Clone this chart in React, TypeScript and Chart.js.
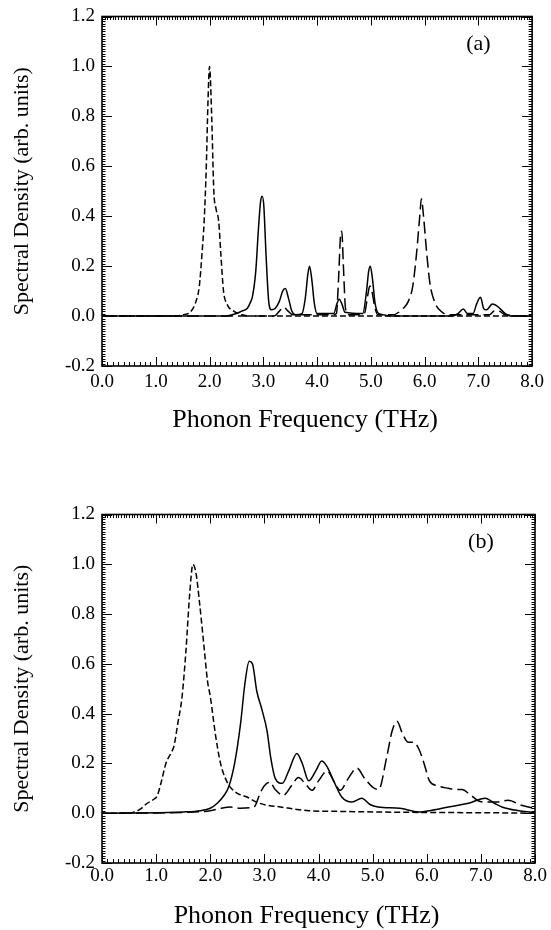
import React, { useEffect, useRef } from "react";
import { Chart, registerables } from "chart.js";

Chart.register(...registerables);

// ---------- axis ticks ----------
const X_MIN = 0;
const X_MAX = 8;
const X_STEP = 1;
const Y_MIN = -0.2;
const Y_MAX = 1.2;
const Y_STEP = 0.2;

const X_TITLE = "Phonon Frequency (THz)";
const Y_TITLE = "Spectral Density (arb. units)";

const PANEL_LABELS = ["(a)", "(b)"];
const PANEL_LABEL_X = 7.0;
const PANEL_LABEL_Y = 1.09;

// ---------- panel (a) ----------
const aSolidX = [0, 2.3, 2.5, 2.6, 2.7, 2.75, 2.8, 2.86, 2.91, 2.95, 2.98, 3.01, 3.05, 3.1, 3.15, 3.22, 3.3, 3.36, 3.41, 3.47, 3.53, 3.6, 3.72, 3.78, 3.83, 3.86, 3.9, 3.95, 4.0, 4.31, 4.37, 4.41, 4.46, 4.52, 4.85, 4.92, 4.96, 4.99, 5.03, 5.08, 5.15, 5.5, 6.5, 6.62, 6.72, 6.8, 6.9, 6.97, 7.04, 7.1, 7.15, 7.26, 7.35, 7.5, 7.6, 8.0];
const aSolidY = [0, 0, 0.01, 0.02, 0.03, 0.05, 0.08, 0.18, 0.35, 0.46, 0.48, 0.44, 0.25, 0.06, 0.025, 0.03, 0.06, 0.1, 0.11, 0.07, 0.02, 0.005, 0.01, 0.07, 0.17, 0.2, 0.15, 0.05, 0.01, 0.01, 0.05, 0.067, 0.05, 0.015, 0.01, 0.1, 0.18, 0.2, 0.15, 0.05, 0.01, 0.0, 0.0, 0.01, 0.028, 0.01, 0.01, 0.05, 0.075, 0.03, 0.025, 0.048, 0.04, 0.01, 0.0, 0.0];

const aShortX = [0, 1.3, 1.5, 1.66, 1.75, 1.81, 1.86, 1.9, 1.94, 1.97, 2.0, 2.04, 2.08, 2.12, 2.17, 2.21, 2.26, 2.32, 2.45, 2.6, 2.8, 8.0];
const aShortY = [0, 0, 0.005, 0.02, 0.06, 0.12, 0.25, 0.38, 0.6, 0.85, 1.0, 0.8, 0.5, 0.43, 0.38, 0.25, 0.1, 0.05, 0.02, 0.005, 0, 0];

const aLongX = [0, 3.2, 3.3, 3.38, 3.46, 3.55, 4.3, 4.36, 4.4, 4.44, 4.46, 4.49, 4.53, 4.6, 4.88, 4.94, 4.98, 5.02, 5.07, 5.13, 5.4, 5.6, 5.7, 5.78, 5.85, 5.91, 5.94, 5.98, 6.04, 6.1, 6.18, 6.3, 6.45, 7.2, 7.3, 7.38, 7.5, 8.0];
const aLongY = [0, 0, 0.02, 0.035, 0.02, 0.005, 0.005, 0.01, 0.15, 0.33, 0.34, 0.2, 0.03, 0.005, 0.01, 0.08, 0.12, 0.1, 0.04, 0.005, 0.005, 0.03, 0.06, 0.12, 0.25, 0.4, 0.47, 0.4, 0.25, 0.13, 0.06, 0.02, 0.005, 0.005, 0.02, 0.02, 0.005, 0];

// ---------- panel (b) ----------
const bSolidX = [0, 1.5, 1.82, 2.0, 2.13, 2.25, 2.34, 2.45, 2.56, 2.64, 2.72, 2.78, 2.86, 2.95, 3.05, 3.12, 3.2, 3.33, 3.45, 3.6, 3.7, 3.82, 3.95, 4.06, 4.15, 4.28, 4.43, 4.62, 4.8, 4.95, 5.1, 5.5, 5.85, 6.1, 6.4, 6.77, 7.08, 7.25, 7.4, 7.7, 7.9, 8.0];
const bSolidY = [0, 0.005, 0.01, 0.02, 0.04, 0.07, 0.105, 0.2, 0.36, 0.52, 0.61, 0.6, 0.49, 0.42, 0.33, 0.22, 0.14, 0.12, 0.17, 0.24, 0.2, 0.13, 0.17, 0.21, 0.19, 0.13, 0.065, 0.045, 0.06, 0.035, 0.025, 0.02, 0.005, 0.012, 0.025, 0.04, 0.06, 0.04, 0.024, 0.01, 0.005, 0.003];

const bShortX = [0, 0.5, 0.6, 0.7, 0.83, 0.95, 1.02, 1.1, 1.18, 1.27, 1.33, 1.4, 1.48, 1.55, 1.62, 1.68, 1.74, 1.8, 1.88, 1.95, 2.0, 2.1, 2.19, 2.28, 2.37, 2.5, 2.68, 2.85, 3.05, 3.3, 3.6, 3.82, 4.5, 5.05, 6.0, 7.0, 8.0];
const bShortY = [0, 0, 0.005, 0.015, 0.039, 0.055, 0.07, 0.13, 0.2, 0.24, 0.27, 0.36, 0.47, 0.65, 0.88, 1.0, 0.96, 0.85, 0.68, 0.53, 0.47, 0.31, 0.2, 0.14, 0.105, 0.08, 0.065, 0.045, 0.032, 0.025, 0.015, 0.01, 0.007, 0.005, 0.003, 0.002, 0.0];

const bLongX = [0, 1.5, 2.0, 2.2, 2.37, 2.55, 2.81, 2.92, 3.0, 3.1, 3.2, 3.35, 3.5, 3.63, 3.75, 3.88, 4.0, 4.16, 4.28, 4.4, 4.55, 4.71, 4.85, 5.0, 5.11, 5.26, 5.36, 5.45, 5.55, 5.66, 5.75, 5.85, 5.95, 6.05, 6.2, 6.4, 6.55, 6.65, 6.8, 6.95, 7.1, 7.3, 7.5, 7.75, 8.0];
const bLongY = [0, 0.003, 0.01, 0.02, 0.025, 0.02, 0.025, 0.08, 0.11, 0.125, 0.095, 0.072, 0.11, 0.143, 0.12, 0.092, 0.13, 0.17, 0.13, 0.092, 0.14, 0.181, 0.14, 0.105, 0.095, 0.225, 0.33, 0.369, 0.32, 0.285, 0.285, 0.26, 0.2, 0.13, 0.11, 0.1, 0.095, 0.095, 0.075, 0.05, 0.045, 0.045, 0.052, 0.032, 0.019];

const SHORT_DASH = [6, 3];
const LONG_DASH = [12, 5];

const FONT_FAMILY = '"Liberation Serif", "Times New Roman", "DejaVu Serif", serif';

function pts(xs: number[], ys: number[]) {
  return xs.map((x, i) => ({ x, y: ys[i] }));
}

function fmt(v: any) {
  const n = Number(v);
  return (Math.abs(n) < 1e-9 ? 0 : n).toFixed(1);
}

const framePlugin = {
  id: "frame",
  afterDatasetsDraw(chart: any, _args: any, opts: any) {
    const { ctx, chartArea } = chart;
    const { left, right, top, bottom } = chartArea;
    const xs = chart.scales.x;
    const ys = chart.scales.y;
    ctx.save();
    ctx.strokeStyle = "#000";
    ctx.lineWidth = 1.6;
    ctx.strokeRect(left, top, right - left, bottom - top);
    ctx.lineWidth = 1;
    ctx.beginPath();
    // bottom axis: minor every 0.1
    for (let i = 0; i <= 80; i++) {
      const px = Math.round(xs.getPixelForValue(i / 10)) + 0.5;
      const len = i % 10 === 0 ? 9 : 4;
      ctx.moveTo(px, bottom);
      ctx.lineTo(px, bottom - len);
    }
    // top axis: minor every 0.05
    for (let i = 0; i <= 160; i++) {
      const px = Math.round(xs.getPixelForValue(i / 20)) + 0.5;
      const len = i % 20 === 0 ? 9 : 3.5;
      ctx.moveTo(px, top);
      ctx.lineTo(px, top + len);
    }
    // left/right axes: minor every 0.01
    for (let i = -20; i <= 120; i++) {
      const py = Math.round(ys.getPixelForValue(i / 100)) + 0.5;
      const len = i % 20 === 0 ? 10 : 3.5;
      ctx.moveTo(left, py);
      ctx.lineTo(left + len, py);
      ctx.moveTo(right, py);
      ctx.lineTo(right - len, py);
    }
    ctx.stroke();
    ctx.fillStyle = "#000";
    ctx.textAlign = "center";
    ctx.textBaseline = "middle";
    if (opts && opts.label) {
      ctx.font = `22px ${FONT_FAMILY}`;
      ctx.fillText(opts.label, xs.getPixelForValue(PANEL_LABEL_X), ys.getPixelForValue(PANEL_LABEL_Y));
    }
    if (opts && opts.titleY) {
      ctx.font = `26px ${FONT_FAMILY}`;
      ctx.fillText(X_TITLE, (left + right) / 2 - 12, opts.titleY);
    }
    ctx.restore();
  },
};

type PanelProps = {
  top: number;
  height: number;
  label: string;
  solid: { x: number; y: number }[];
  short: { x: number; y: number }[];
  long: { x: number; y: number }[];
  xScaleHeight: number;
  tickPad: number;
  titleY: number;
};

function Panel(props: PanelProps) {
  const ref = useRef<HTMLCanvasElement | null>(null);
  useEffect(() => {
    if (!ref.current) return;
    Chart.defaults.color = "#000";
    Chart.defaults.font.family = FONT_FAMILY;
    const line = (data: any[], dash: number[]) => ({
      data,
      borderColor: "#000",
      borderWidth: 1.5,
      borderDash: dash,
      pointRadius: 0,
      fill: false,
      cubicInterpolationMode: "monotone" as const,
    });
    const chart = new Chart(ref.current, {
      type: "line",
      data: {
        datasets: [
          line(props.long, LONG_DASH),
          line(props.short, SHORT_DASH),
          line(props.solid, []),
        ],
      },
      options: {
        animation: false,
        responsive: false,
        devicePixelRatio: 1,
        layout: { padding: { top: 15, right: 16, left: 0, bottom: 0 } },
        plugins: {
          legend: { display: false },
          tooltip: { enabled: false },
          frame: { label: props.label, titleY: props.titleY },
        } as any,
        scales: {
          x: {
            type: "linear",
            min: X_MIN,
            max: X_MAX,
            grid: { display: false, drawTicks: false },
            border: { display: false },
            ticks: {
              stepSize: X_STEP,
              padding: props.tickPad,
              maxRotation: 0,
              autoSkip: false,
              color: "#000",
              font: { size: 19, lineHeight: 1 },
              callback: (v: any) => fmt(v),
            },
            afterFit: (s: any) => {
              s.height = props.xScaleHeight;
            },
          },
          y: {
            type: "linear",
            min: Y_MIN,
            max: Y_MAX,
            grid: { display: false, drawTicks: false },
            border: { display: false },
            ticks: {
              stepSize: Y_STEP,
              padding: 7,
              color: "#000",
              font: { size: 19, lineHeight: 1 },
              callback: (v: any) => fmt(v),
            },
            title: {
              display: true,
              text: Y_TITLE,
              color: "#000",
              font: { size: 22, lineHeight: 1.2 },
              padding: { top: 9, bottom: 0 },
            },
            afterFit: (s: any) => {
              s.width = 102;
            },
          },
        },
      },
      plugins: [framePlugin],
    });
    return () => chart.destroy();
  }, []);
  return (
    <canvas
      ref={ref}
      width={551}
      height={props.height}
      style={{ position: "absolute", left: 0, top: props.top, width: 551, height: props.height, display: "block" }}
    />
  );
}

export default function App() {
  return (
    <div style={{ position: "absolute", left: 0, top: 0, width: 551, height: 930, background: "#fff" }}>
      <Panel
        top={0}
        height={450}
        label={PANEL_LABELS[0]}
        solid={pts(aSolidX, aSolidY)}
        short={pts(aShortX, aShortY)}
        long={pts(aLongX, aLongY)}
        xScaleHeight={84}
        tickPad={7}
        titleY={420}
      />
      <Panel
        top={498}
        height={432}
        label={PANEL_LABELS[1]}
        solid={pts(bSolidX, bSolidY)}
        short={pts(bShortX, bShortY)}
        long={pts(bLongX, bLongY)}
        xScaleHeight={67}
        tickPad={4}
        titleY={418}
      />
    </div>
  );
}
